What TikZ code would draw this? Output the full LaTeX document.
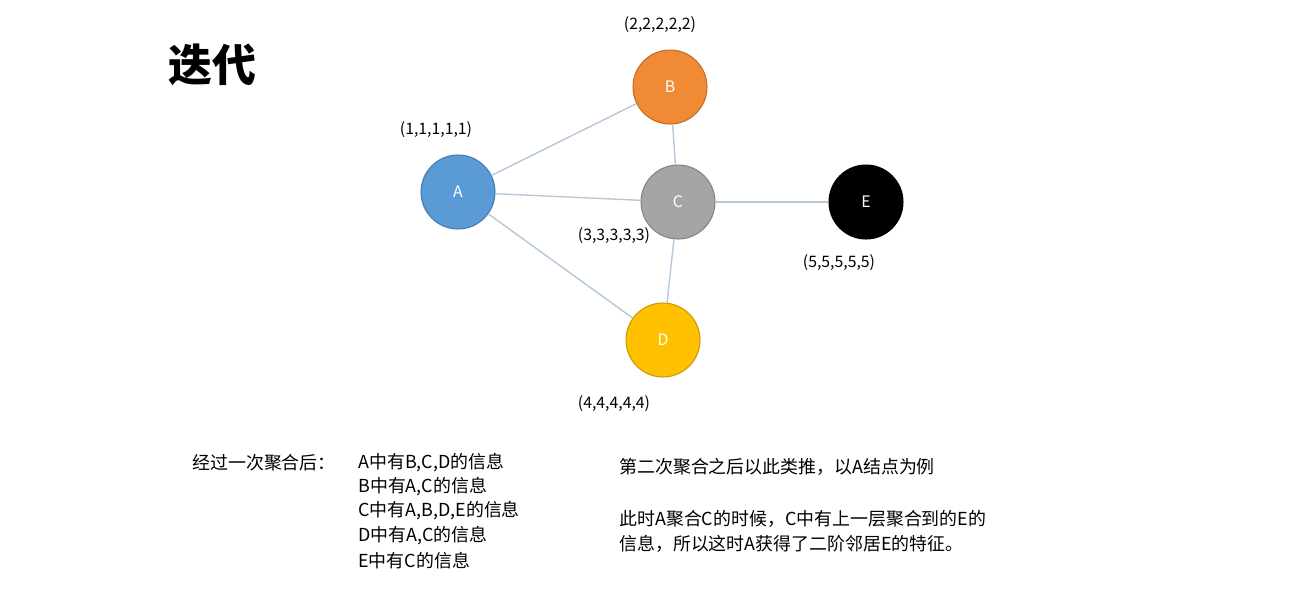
\documentclass[tikz,border=0pt]{standalone}
\usepackage{fontspec}
\setmainfont{Noto Sans CJK SC}
\definecolor{ca}{HTML}{5B9BD5}
\definecolor{cb}{HTML}{F08A35}
\definecolor{cc}{HTML}{A5A5A5}
\definecolor{cd}{HTML}{FFC000}
\definecolor{edge}{HTML}{B4C8DA}
\begin{document}
\begin{tikzpicture}[x=0.02cm,y=-0.02cm,
  vert/.style={circle,minimum size=1.48cm,inner sep=0pt,text=white,font=\fontsize{9}{10}\selectfont,draw=#1!80!black,line width=0.6pt,fill=#1},
  lab/.style={font=\fontsize{9}{10}\selectfont},
  txt/.style={font=\fontsize{10.2}{13.6}\selectfont,anchor=west,inner sep=0pt},
  conn/.style={draw=edge,line width=0.8pt}]
\useasboundingbox (0,0) rectangle (1311,600);
\node[font=\fontsize{25}{28}\selectfont\bfseries] (title) at (212,65) {迭代};
\node[vert=ca] (A) at (458,192) {A};
\node[vert=cb] (B) at (670,87) {B};
\node[vert=cc] (C) at (678,202) {C};
\node[vert=cd] (D) at (663,340) {D};
\node[vert=black] (E) at (866,202) {E};
\draw[conn] (A) -- (B);
\draw[conn] (A) -- (C);
\draw[conn] (A) -- (D);
\draw[conn] (B) -- (C);
\draw[conn] (C) -- (D);
\draw[conn] (C) -- (E);
\node[lab] (la) at (436,130) {(1,1,1,1,1)};
\node[lab] (lb) at (660,25) {(2,2,2,2,2)};
\node[lab] (lc) at (614,236) {(3,3,3,3,3)};
\node[lab] (le) at (839,263) {(5,5,5,5,5)};
\node[lab] (ld) at (614,404) {(4,4,4,4,4)};
\node[txt] (t0) at (192,463) {经过一次聚合后：};
\node[txt] (t1) at (358,463) {A中有B,C,D的信息};
\node[txt] (t2) at (358,487) {B中有A,C的信息};
\node[txt] (t3) at (358,511) {C中有A,B,D,E的信息};
\node[txt] (t4) at (358,536) {D中有A,C的信息};
\node[txt] (t5) at (358,561) {E中有C的信息};
\node[txt] (r1) at (619,467) {第二次聚合之后以此类推，以A结点为例};
\node[txt] (r2) at (619,519) {此时A聚合C的时候，C中有上一层聚合到的E的};
\node[txt] (r3) at (619,544) {信息，所以这时A获得了二阶邻居E的特征。};
\end{tikzpicture}
\end{document}
